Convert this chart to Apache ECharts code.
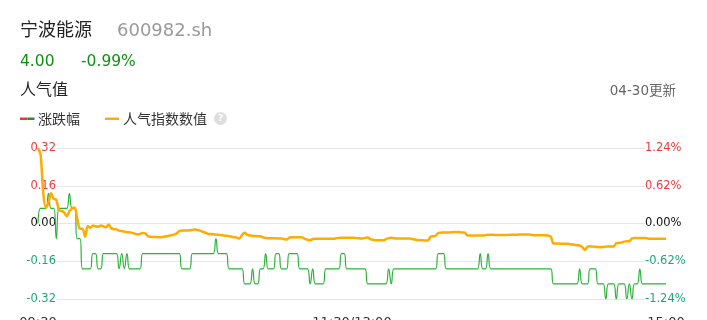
<!DOCTYPE html>
<html>
<head>
<meta charset="utf-8">
<script src="https://cdn.jsdelivr.net/npm/echarts@6/dist/echarts.min.js"></script>
<style>
html,body{margin:0;padding:0;background:#fff;}
#chart{width:707px;height:320px;}
</style>
</head>
<body>
<div id="chart"></div>
<script>
// ---- data ----
const stockName = '宁波能源';
const stockCode = '600982.sh';
const lastPrice = '4.00';
const lastChange = '-0.99%';
const prevClose = 4.04;
const tickLabels = ['09:30', '11:30/13:00', '15:00'];
const leftTicks = [-0.32, -0.16, 0, 0.16, 0.32];
const rightMax = 1.2376; // label 1.24%

// price per minute (涨跌幅 is derived from it)
const price = [
  4.04, 4.05, 4.05, 4.05, 4.06, 4.05, 4.05, 4.03, 4.05, 4.05,
  4.05, 4.05, 4.06, 4.05, 4.05, 4.03, 4.03, 4.01, 4.01, 4.01,
  4.01, 4.02, 4.02, 4.01, 4.01, 4.02, 4.02, 4.02, 4.02, 4.02,
  4.02, 4.01, 4.02, 4.01, 4.02, 4.01, 4.01, 4.01, 4.01, 4.01,
  4.02, 4.02, 4.02, 4.02, 4.02, 4.02, 4.02, 4.02, 4.02, 4.02,
  4.02, 4.02, 4.02, 4.02, 4.02, 4.01, 4.01, 4.01, 4.01, 4.02,
  4.02, 4.02, 4.02, 4.02, 4.02, 4.02, 4.02, 4.02, 4.03, 4.02,
  4.02, 4.02, 4.02, 4.01, 4.01, 4.01, 4.01, 4.01, 4.01, 4.00,
  4.00, 4.00, 4.01, 4.00, 4.00, 4.01, 4.01, 4.02, 4.01, 4.01,
  4.01, 4.02, 4.02, 4.01, 4.01, 4.01, 4.02, 4.02, 4.02, 4.02,
  4.01, 4.01, 4.01, 4.01, 4.00, 4.01, 4.00, 4.00, 4.00, 4.00,
  4.01, 4.01, 4.01, 4.01, 4.01, 4.01, 4.02, 4.02, 4.01, 4.01,
  4.01, 4.01, 4.01, 4.01, 4.01, 4.01, 4.00, 4.00, 4.00, 4.00,
  4.00, 4.00, 4.00, 4.00, 4.01, 4.00, 4.01, 4.01, 4.01, 4.01,
  4.01, 4.01, 4.01, 4.01, 4.01, 4.01, 4.01, 4.01, 4.01, 4.01,
  4.01, 4.01, 4.01, 4.02, 4.02, 4.02, 4.01, 4.01, 4.01, 4.01,
  4.01, 4.01, 4.01, 4.01, 4.01, 4.01, 4.01, 4.01, 4.01, 4.02,
  4.01, 4.01, 4.02, 4.01, 4.01, 4.01, 4.01, 4.01, 4.01, 4.01,
  4.01, 4.01, 4.01, 4.01, 4.01, 4.01, 4.01, 4.01, 4.01, 4.01,
  4.01, 4.01, 4.01, 4.01, 4.01, 4.01, 4.01, 4.00, 4.00, 4.00,
  4.00, 4.00, 4.00, 4.00, 4.00, 4.00, 4.00, 4.01, 4.00, 4.00,
  4.00, 4.01, 4.01, 4.01, 4.00, 4.00, 4.00, 3.99, 4.00, 4.00,
  4.00, 3.99, 4.00, 4.00, 4.00, 3.99, 4.00, 3.99, 4.00, 4.00,
  4.01, 4.00, 4.00, 4.00, 4.00, 4.00, 4.00, 4.00, 4.00, 4.00,
  4.00
];

// 人气指数数值 per minute
const popularity = [
  0.320, 0.290, 0.130, 0.068, 0.088, 0.128, 0.105, 0.100, 0.056, 0.053,
  0.047, 0.031, 0.052, 0.063, 0.068, 0.020, -0.022, -0.022, -0.056, -0.011,
  -0.018, -0.008, -0.012, -0.014, -0.008, -0.012, -0.016, -0.004, -0.020, -0.024,
  -0.025, -0.030, -0.032, -0.034, -0.037, -0.037, -0.040, -0.043, -0.046, -0.044,
  -0.040, -0.042, -0.054, -0.056, -0.057, -0.057, -0.058, -0.058, -0.056, -0.054,
  -0.052, -0.050, -0.047, -0.042, -0.032, -0.030, -0.030, -0.030, -0.029, -0.027,
  -0.025, -0.028, -0.030, -0.035, -0.039, -0.044, -0.045, -0.046, -0.047, -0.048,
  -0.049, -0.051, -0.052, -0.054, -0.056, -0.058, -0.060, -0.064, -0.048, -0.039,
  -0.048, -0.051, -0.052, -0.053, -0.054, -0.054, -0.059, -0.061, -0.062, -0.062,
  -0.063, -0.063, -0.064, -0.064, -0.066, -0.068, -0.060, -0.058, -0.058, -0.058,
  -0.058, -0.059, -0.065, -0.069, -0.071, -0.066, -0.065, -0.065, -0.065, -0.065,
  -0.065, -0.065, -0.065, -0.065, -0.062, -0.061, -0.060, -0.060, -0.060, -0.060,
  -0.060, -0.061, -0.062, -0.063, -0.064, -0.061, -0.059, -0.066, -0.069, -0.071,
  -0.071, -0.071, -0.071, -0.066, -0.062, -0.060, -0.062, -0.064, -0.064, -0.064,
  -0.064, -0.064, -0.064, -0.066, -0.068, -0.070, -0.071, -0.071, -0.072, -0.072,
  -0.056, -0.054, -0.052, -0.040, -0.039, -0.038, -0.038, -0.038, -0.037, -0.036,
  -0.036, -0.036, -0.038, -0.038, -0.050, -0.051, -0.051, -0.051, -0.051, -0.051,
  -0.051, -0.050, -0.048, -0.048, -0.048, -0.049, -0.049, -0.049, -0.049, -0.049,
  -0.048, -0.048, -0.048, -0.048, -0.047, -0.047, -0.047, -0.047, -0.047, -0.049,
  -0.050, -0.050, -0.050, -0.050, -0.050, -0.051, -0.056, -0.085, -0.085, -0.085,
  -0.086, -0.086, -0.086, -0.087, -0.089, -0.090, -0.092, -0.093, -0.100, -0.112,
  -0.099, -0.096, -0.098, -0.099, -0.100, -0.101, -0.100, -0.098, -0.097, -0.097,
  -0.097, -0.083, -0.082, -0.081, -0.077, -0.075, -0.075, -0.063, -0.061, -0.061,
  -0.061, -0.061, -0.061, -0.064, -0.065, -0.065, -0.065, -0.065, -0.065, -0.065,
  -0.065
];

// minute categories 09:30-11:30, 13:01-15:00
const times = [];
function pad(n){return (n<10?'0':'')+n;}
for (let m = 9*60+30; m <= 11*60+30; m++) times.push(pad(Math.floor(m/60))+':'+pad(m%60));
for (let m = 13*60+1; m <= 15*60; m++) times.push(pad(Math.floor(m/60))+':'+pad(m%60));

const changePct = price.map(p => (p - prevClose) / prevClose * 100);

// ---- styles ----
const FONT = "'DejaVu Sans','Noto Sans CJK SC',sans-serif";
const RED = '#f5373a';
const TEAL = '#1fa57c';
const GREEN_LINE = '#2cb33a';
const ORANGE = '#ffab00';
const GRIDC = '#e2e5ee';

function signColor(v){
  const n = Number(v);
  if (Math.abs(n) < 1e-9) return '#111';
  return n > 0 ? RED : TEAL;
}

const chart = echarts.init(document.getElementById('chart'), null, {renderer:'canvas'});
const option = {
  animation: false,
  backgroundColor: '#fff',
  textStyle: {fontFamily: FONT},
  graphic: [
    {type:'text', x:20, y:31, style:{text:stockName, font:'18px '+FONT, fill:'#222', verticalAlign:'middle'}},
    {type:'text', x:117, y:31, style:{text:stockCode, font:'18px '+FONT, fill:'#9a9a9a', verticalAlign:'middle'}},
    {type:'text', x:20, y:62, style:{text:lastPrice, font:'15.5px '+FONT, fill:'#0f900f', verticalAlign:'middle'}},
    {type:'text', x:81, y:62, style:{text:lastChange, font:'15.5px '+FONT, fill:'#0f900f', verticalAlign:'middle'}},
    {type:'text', x:20, y:91, style:{text:'人气值', font:'16px '+FONT, fill:'#222', verticalAlign:'middle'}},
    {type:'text', x:676, y:91, style:{text:'04-30更新', font:'13.5px '+FONT, fill:'#666', align:'right', verticalAlign:'middle'}},
    {type:'rect', shape:{x:20, y:117.5, width:7.5, height:2.5}, style:{fill:'#e8392e'}},
    {type:'rect', shape:{x:27.5, y:117.5, width:7, height:2.5}, style:{fill:'#2e8b36'}},
    {type:'text', x:38, y:120, style:{text:'涨跌幅', font:'14px '+FONT, fill:'#333', verticalAlign:'middle'}},
    {type:'rect', shape:{x:105, y:117.5, width:14, height:2.5}, style:{fill:ORANGE}},
    {type:'text', x:123, y:120, style:{text:'人气指数数值', font:'14px '+FONT, fill:'#333', verticalAlign:'middle'}},
    {type:'circle', shape:{cx:220.5, cy:118.5, r:6.5}, style:{fill:'#dedede'}},
    {type:'text', x:220.5, y:119, style:{text:'?', font:'bold 9px '+FONT, fill:'#fff', align:'center', verticalAlign:'middle'}}
  ],
  grid: [
    {left:38, right:41, top:148, bottom:21, outerBoundsMode:'none', containLabel:false},
    {left:57, right:62, top:148, bottom:21, outerBoundsMode:'none', containLabel:false}
  ],
  xAxis: [
    {
      type:'category', gridIndex:0, data:times, boundaryGap:false,
      axisLine:{show:false}, axisTick:{show:false}, splitLine:{show:false},
      axisLabel:{
        interval:119, margin:17, fontSize:13, color:'#333', fontFamily:FONT,
        formatter:(v, i) => i === 0 ? tickLabels[0] : (i === 120 ? tickLabels[1] : tickLabels[2])
      }
    },
    {type:'value', gridIndex:1, show:false, min:0, max:1}
  ],
  yAxis: [
    {
      type:'value', gridIndex:0, position:'left', min:leftTicks[0], max:leftTicks[4], interval:0.16,
      axisLine:{show:false}, axisTick:{show:false}, splitLine:{show:false},
      axisLabel:{margin:-18, fontSize:11.5, fontFamily:FONT, formatter:v => v.toFixed(2), color:signColor}
    },
    {
      type:'value', gridIndex:0, position:'right', min:-rightMax, max:rightMax, interval:rightMax/2,
      axisLine:{show:false}, axisTick:{show:false}, splitLine:{show:false},
      axisLabel:{margin:-21, fontSize:11.5, fontFamily:FONT, formatter:v => v.toFixed(2)+'%', color:signColor}
    },
    {
      type:'value', gridIndex:1, min:leftTicks[0], max:leftTicks[4], interval:0.16,
      axisLine:{show:false}, axisTick:{show:false}, axisLabel:{show:false},
      splitLine:{show:true, lineStyle:{color:GRIDC, width:1}}
    }
  ],
  series: [
    {
      name:'涨跌幅', type:'line', xAxisIndex:0, yAxisIndex:1, data:changePct,
      showSymbol:false, smooth:0.5, lineStyle:{color:GREEN_LINE, width:1.2}, z:3
    },
    {
      name:'人气指数数值', type:'line', xAxisIndex:0, yAxisIndex:0, data:popularity,
      showSymbol:false, smooth:0.3, lineStyle:{color:ORANGE, width:2.5}, z:4
    }
  ]
};
chart.setOption(option);
</script>
</body>
</html>
